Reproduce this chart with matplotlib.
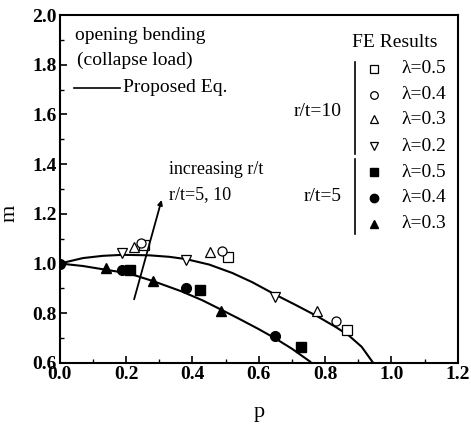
import numpy as np
import matplotlib
matplotlib.use("Agg")
import matplotlib.pyplot as plt
from matplotlib.ticker import MultipleLocator

plt.rcParams['font.family'] = ['Liberation Serif', 'DejaVu Serif']

# FE results, r/t=10 (open markers)
p10_l5 = [0.254, 0.507, 0.866]
m10_l5 = [1.076, 1.028, 0.732]
p10_l4 = [0.244, 0.490, 0.833]
m10_l4 = [1.084, 1.052, 0.768]
p10_l3 = [0.224, 0.453, 0.776]
m10_l3 = [1.068, 1.048, 0.808]
p10_l2 = [0.188, 0.379, 0.648]
m10_l2 = [1.044, 1.016, 0.864]

# FE results, r/t=5 (filled markers)
p5_l5 = [0.212, 0.424, 0.728]
m5_l5 = [0.972, 0.892, 0.664]
p5_l4 = [0.0, 0.188, 0.379, 0.648]
m5_l4 = [1.0, 0.972, 0.900, 0.708]
p5_l3 = [0.140, 0.281, 0.486]
m5_l3 = [0.980, 0.928, 0.808]

# proposed equation
p_eq10 = [0.0, 0.07, 0.13, 0.19, 0.27, 0.33, 0.38, 0.45, 0.52, 0.58, 0.648,
          0.71, 0.776, 0.83, 0.87, 0.91, 0.945]
m_eq10 = [1.0, 1.022, 1.031, 1.035, 1.033, 1.027, 1.018, 0.996, 0.962, 0.925,
          0.876, 0.834, 0.788, 0.746, 0.712, 0.665, 0.60]
p_eq5 = [0.0, 0.07, 0.134, 0.209, 0.284, 0.367, 0.43, 0.484, 0.54, 0.597,
         0.648, 0.70, 0.755]
m_eq5 = [1.0, 0.990, 0.976, 0.960, 0.928, 0.888, 0.852, 0.816, 0.778, 0.738,
         0.700, 0.657, 0.605]

# arrow "increasing r/t"
arr_p = [0.224, 0.307]
arr_m = [0.856, 1.256]

leg_labels = ["λ=0.5", "λ=0.4", "λ=0.3", "λ=0.2", "λ=0.5", "λ=0.4", "λ=0.3"]
leg_markers = ["s", "o", "^", "v", "s", "o", "^"]
leg_filled = [False, False, False, False, True, True, True]

fig = plt.figure(figsize=(4.71, 4.29), dpi=100)
ax = fig.add_axes([0.127, 0.154, 0.845, 0.811])

ax.plot(p_eq10, m_eq10, color="black", lw=1.5)
ax.plot(p_eq5, m_eq5, color="black", lw=1.5)

op = dict(ls="none", mfc="white", mec="black", mew=0.9, ms=6.5)
ax.plot(p10_l5, m10_l5, marker="s", **op)
ax.plot(p10_l4, m10_l4, marker="o", **op)
ax.plot(p10_l3, m10_l3, marker="^", **op)
ax.plot(p10_l2, m10_l2, marker="v", **op)
fp = dict(ls="none", color="black", ms=7)
ax.plot(p5_l5, m5_l5, marker="s", **fp)
ax.plot(p5_l4, m5_l4, marker="o", **fp)
ax.plot(p5_l3, m5_l3, marker="^", **fp)

ax.annotate("", xy=(arr_p[1], arr_m[1]), xytext=(arr_p[0], arr_m[0]),
            arrowprops=dict(arrowstyle="-|>", color="black", lw=1.3,
                            mutation_scale=7, shrinkA=0, shrinkB=0))
ax.text(0.33, 1.36, "increasing r/t", fontsize=13)
ax.text(0.33, 1.26, "r/t=5, 10", fontsize=13)

# upper-left note
ax.text(0.045, 1.90, "opening bending", fontsize=14)
ax.text(0.052, 1.80, "(collapse load)", fontsize=14)
ax.plot([0.042, 0.18], [1.707, 1.707], color="black", lw=1.2)
ax.text(0.19, 1.69, "Proposed Eq.", fontsize=14)

# legend on the right
ax.text(1.01, 1.888, "FE Results", fontsize=14, ha="center", va="center")
ys = [1.784, 1.68, 1.58, 1.472, 1.368, 1.264, 1.16]
for y, lab, mk, fl in zip(ys, leg_labels, leg_markers, leg_filled):
    if fl:
        ax.plot([0.946], [y], marker=mk, color="black", ms=6, ls="none")
    else:
        ax.plot([0.946], [y], marker=mk, mfc="white", mec="black",
                mew=0.9, ms=5.5, ls="none")
    ax.text(1.03, y, lab, fontsize=14, va="center")
ax.plot([0.89, 0.89], [1.812, 1.44], color="black", lw=1.2)
ax.plot([0.89, 0.89], [1.42, 1.12], color="black", lw=1.2)
ax.text(0.85, 1.612, "r/t=10", fontsize=14, ha="right", va="center")
ax.text(0.85, 1.268, "r/t=5", fontsize=14, ha="right", va="center")

ax.set_xlim(0, 1.2)
ax.set_ylim(0.6, 2.0)
ax.xaxis.set_major_locator(MultipleLocator(0.2))
ax.xaxis.set_minor_locator(MultipleLocator(0.1))
ax.yaxis.set_major_locator(MultipleLocator(0.2))
ax.yaxis.set_minor_locator(MultipleLocator(0.1))
ax.tick_params(which="both", direction="in", top=False, right=False)
ax.tick_params(which="major", length=5, width=1.2, labelsize=14, pad=2)
ax.tick_params(which="minor", length=3, width=1)
for lab in ax.get_xticklabels() + ax.get_yticklabels():
    lab.set_fontweight("bold")
for s in ax.spines.values():
    s.set_linewidth(1.5)

ax.set_xlabel("p", fontsize=16)
ax.set_ylabel("m", fontsize=16)
ax.xaxis.set_label_coords(0.5, -0.115)
ax.yaxis.set_label_coords(-0.10, 0.43)

fig.savefig("out.png", dpi=100)
